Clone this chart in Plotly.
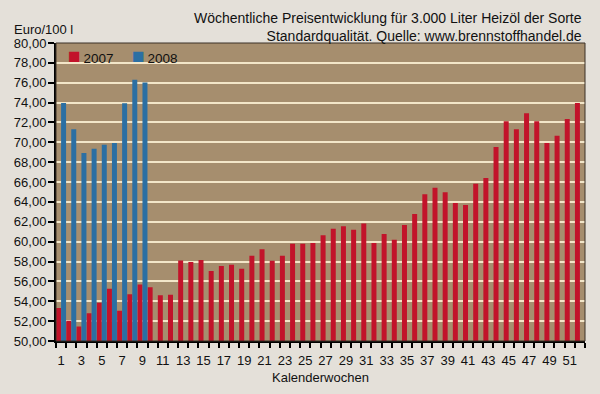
import plotly.graph_objects as go

weeks = list(range(1, 53))
prices_2007 = [53.33, 52.05, 51.45, 52.8, 53.85, 55.25, 53.05, 54.7, 55.7, 55.4,
               54.6, 54.65, 58.1, 57.95, 58.15, 57.04, 57.54, 57.68, 57.27, 58.59,
               59.23, 58.08, 58.59, 59.8, 59.8, 59.87, 60.64, 61.31, 61.55, 61.21,
               61.82, 59.87, 60.77, 60.2, 61.68, 62.79, 64.78, 65.42, 64.98, 63.9,
               63.7, 65.82, 66.4, 69.53, 72.12, 71.31, 72.93, 72.12, 69.93, 70.67,
               72.36, 73.97]
weeks_2008 = list(range(1, 10))
prices_2008 = [73.97, 71.31, 68.92, 69.36, 69.76, 69.93, 73.94, 76.3, 76.03]
x_tick_vals = list(range(1, 53, 2))
x_tick_text = [str(v) for v in x_tick_vals]
series_names = ["2007", "2008"]

prices_2008_full = prices_2008 + [None] * (len(weeks) - len(prices_2008))

RED = "#c2132a"
BLUE = "#2b6fa3"
FONT = "Liberation Sans, Arial, sans-serif"

fig = go.Figure()
fig.add_trace(go.Bar(x=weeks, y=prices_2007, name=series_names[0], marker_color=RED,
                     marker_line_width=0, showlegend=False))
fig.add_trace(go.Bar(x=weeks, y=prices_2008_full, name=series_names[1], marker_color=BLUE,
                     marker_line_width=0, showlegend=False))

legend_annots = [
    dict(text=f'<span style="color:{RED};font-size:21px">■</span>&#8201;{series_names[0]}',
         xref="paper", yref="paper", x=0.018, y=0.958, xanchor="left",
         yanchor="middle", showarrow=False, font=dict(size=13.5)),
    dict(text=f'<span style="color:{BLUE};font-size:21px">■</span>&#8201;{series_names[1]}',
         xref="paper", yref="paper", x=0.139, y=0.958, xanchor="left",
         yanchor="middle", showarrow=False, font=dict(size=13.5)),
]

fig.update_layout(
    width=600, height=394,
    margin=dict(l=56, r=15, t=43, b=53),
    paper_bgcolor="#e4e0d9",
    plot_bgcolor="#a68e6e",
    barmode="group",
    bargap=0.02,
    bargroupgap=0,
    separators=",.",
    font=dict(family=FONT, size=13, color="#111111"),
    showlegend=False,
    xaxis=dict(
        range=[0.5, 52.5],
        tickvals=x_tick_vals, ticktext=x_tick_text,
        ticks="", showgrid=False, zeroline=False,
        showline=True, linecolor="#000000", linewidth=2,
        ticklabelstandoff=6,
        minor=dict(ticks="outside", dtick=1, tick0=0.5, ticklen=5,
                   tickcolor="#000000", tickwidth=2, showgrid=False),
        title=dict(text="Kalenderwochen", font=dict(size=13), standoff=6),
        tickfont=dict(size=13),
    ),
    yaxis=dict(
        range=[50, 80], dtick=2, tick0=50, tickformat=".2f",
        ticks="outside", ticklen=6, tickwidth=2, tickcolor="#000000",
        ticklabelstandoff=-1,
        showline=True, linecolor="#000000", linewidth=2,
        showgrid=True, gridcolor="#f3e6c8", gridwidth=1.5,
        zeroline=False,
        tickfont=dict(size=13),
    ),
    annotations=[
        dict(text="Euro/100 l", xref="paper", yref="paper", x=-0.083, y=1.0,
             xanchor="left", yanchor="bottom", yshift=4, showarrow=False,
             font=dict(size=13)),
        dict(text="Wöchentliche Preisentwicklung für 3.000 Liter Heizöl der Sorte"
                  "<br>Standardqualität. Quelle: www.brennstoffhandel.de",
             xref="paper", yref="paper", x=1.0, y=1.0, xanchor="right",
             yanchor="middle", align="right", yshift=16, xshift=-1,
             showarrow=False, font=dict(size=14)),
    ] + legend_annots,
    shapes=[
        dict(type="rect", xref="paper", yref="paper", x0=0, x1=1, y0=0, y1=1,
             line=dict(color="#3a3026", width=1), fillcolor="rgba(0,0,0,0)",
             layer="above"),
    ],
)

fig.write_html("out.html", config={"displayModeBar": False},
               post_script="document.body.style.margin='0';document.body.style.overflow='hidden';")
